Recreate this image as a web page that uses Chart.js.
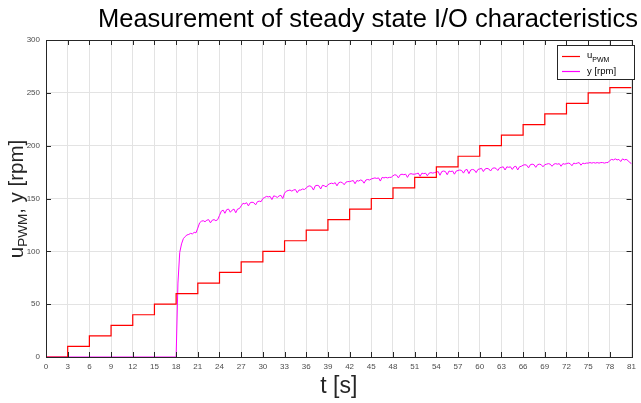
<!DOCTYPE html>
<html>
<head>
<meta charset="utf-8">
<script src="https://cdn.jsdelivr.net/npm/chart.js@4/dist/chart.umd.min.js"></script>
<style>
  html, body { margin: 0; padding: 0; background: #fff; }
  #wrap { width: 641px; height: 403px; }
</style>
</head>
<body>
<div id="wrap"><canvas id="myChart" width="641" height="403"></canvas></div>
<script>
// u_PWM command: step every 3 s
const uTime = [0, 3, 6, 9, 12, 15, 18, 21, 24, 27, 30, 33, 36, 39, 42, 45, 48, 51, 54, 57, 60, 63, 66, 69, 72, 75, 78, 81];
const uPwm = [0, 10, 20, 30, 40, 50, 60, 70, 80, 90, 100, 110, 120, 130, 140, 150, 160, 170, 180, 190, 200, 210, 220, 230, 240, 250, 255, 255];

// measured speed: idle part, then samples every 0.25 s from t = 18 s
const yIdleTime = [0, 18];
const yIdleRpm = [0, 0];
const ySampleStart = 18;
const ySamplePeriod = 0.25;
const yRpm = [
  0, 70, 99, 107, 112, 114, 115.5, 116, 117, 116.5, 118, 117.5,
  122, 127, 128.5, 129, 128, 129.5, 130, 127, 129.5, 130, 129, 130,
  134, 138, 139, 136, 139.5, 140, 137, 139, 140, 136.5, 140, 140.5,
  143, 145.5, 145, 146, 143, 146, 146.5, 146, 144, 147, 147.5, 147,
  150, 151, 152, 151.5, 152, 149, 152.5, 152, 151, 152.5, 153, 150,
  155, 157, 157.5, 158, 157, 158, 158.5, 155.5, 158, 158, 159, 158.5,
  160, 161.5, 162, 161, 158, 162, 162.5, 162, 159, 162.5, 162, 161,
  163, 164, 164.5, 164, 165, 162, 165, 165.5, 165, 163, 165.5, 166,
  166, 166.5, 167, 164, 167, 166.5, 167.5, 167, 164.5, 167.5, 168, 167.5,
  168.5, 169, 169.5, 169, 169.5, 166.5, 170, 169.5, 170, 169.5, 170, 170,
  171.5, 172.5, 172, 169.5, 172.5, 173, 172.5, 173, 170, 173, 173.5, 173,
  173, 173.5, 174, 171, 174, 173.5, 174, 171.5, 174, 174.5, 174, 174.5,
  175, 175.5, 172, 175.5, 176, 175.5, 172.5, 176, 175.5, 176, 173, 176,
  176.5, 177, 176.5, 174, 177, 177.5, 173.5, 177, 177.5, 177, 174.5, 177.5,
  178, 178.5, 175.5, 178, 178.5, 178, 176, 178.5, 179, 178.5, 176.5, 179,
  179.5, 180, 177, 180, 179.5, 180, 177.5, 180, 180.5, 177, 180, 180.5,
  181.5, 182, 181.5, 179, 182, 182.5, 182, 179.5, 182, 182.5, 182, 180,
  182, 182.5, 183, 182.5, 180.5, 182.5, 183, 182.5, 183, 180.5, 183, 182.5,
  183, 183.5, 183, 181, 183.5, 183, 183.5, 184, 181.5, 183.5, 183, 183.5,
  183.5, 184, 183.5, 184, 183.5, 184, 183.5, 184, 184, 183.5, 184, 184,
  186, 187, 186.5, 187.5, 186.5, 187, 185, 187.5, 186.5, 187, 186, 184,
  183
];

const xTicks = { min: 0, max: 81, step: 3 };
const yTicks = { min: 0, max: 300, step: 50 };

const uPoints = uTime.map((t, i) => ({ x: t, y: uPwm[i] }));
const yPoints = yIdleTime.map((t, i) => ({ x: t, y: yIdleRpm[i] }))
  .concat(yRpm.map((v, i) => ({ x: ySampleStart + i * ySamplePeriod, y: v })));

const axisColor = '#262626';
const fontFam = '"Liberation Sans", Arial, sans-serif';

// draws frame, inward ticks, title, y label with subscript and the legend
const matlabLook = {
  id: 'matlabLook',
  afterDatasetsDraw(chart) {
    const { ctx, chartArea: a, scales: { x, y } } = chart;
    const L = a.left, R = a.right, T = a.top, B = a.bottom;
    ctx.save();
    ctx.lineWidth = 1;
    ctx.strokeStyle = axisColor;
    ctx.beginPath();
    for (let v = xTicks.min; v <= xTicks.max; v += xTicks.step) {
      const px = Math.round(x.getPixelForValue(v)) + 0.5;
      ctx.moveTo(px, B); ctx.lineTo(px, B - 5);
      ctx.moveTo(px, T); ctx.lineTo(px, T + 5);
    }
    for (let v = yTicks.min; v <= yTicks.max; v += yTicks.step) {
      const py = Math.round(y.getPixelForValue(v)) + 0.5;
      ctx.moveTo(L, py); ctx.lineTo(L + 5, py);
      ctx.moveTo(R, py); ctx.lineTo(R - 5, py);
    }
    ctx.stroke();
    ctx.strokeRect(Math.round(L) + 0.5, Math.round(T) + 0.5, Math.round(R - L), Math.round(B - T));

    // title
    ctx.fillStyle = '#000';
    ctx.font = '25.5px ' + fontFam;
    ctx.textAlign = 'center';
    ctx.textBaseline = 'alphabetic';
    ctx.fillText('Measurement of steady state I/O characteristics', 368, 27);

    // y axis label: u_PWM, y [rpm]
    ctx.save();
    ctx.translate(23, 199);
    ctx.rotate(-Math.PI / 2);
    ctx.textAlign = 'left';
    const big = '20.5px ' + fontFam, small = '13.5px ' + fontFam;
    ctx.font = big; const w1 = ctx.measureText('u').width;
    ctx.font = small; const w2 = ctx.measureText('PWM').width;
    ctx.font = big; const w3 = ctx.measureText(', y [rpm]').width;
    let sx = -(w1 + w2 + w3) / 2;
    ctx.fillStyle = axisColor;
    ctx.font = big; ctx.fillText('u', sx, 0); sx += w1;
    ctx.font = small; ctx.fillText('PWM', sx, 4); sx += w2;
    ctx.font = big; ctx.fillText(', y [rpm]', sx, 0);
    ctx.restore();

    // legend
    ctx.fillStyle = '#fff';
    ctx.fillRect(557.5, 45.5, 77, 34);
    ctx.strokeStyle = axisColor;
    ctx.strokeRect(557.5, 45.5, 77, 34);
    const items = chart.data.datasets;
    const rows = [56, 71];
    items.forEach((ds, i) => {
      const ry = rows[i];
      ctx.strokeStyle = ds.borderColor;
      ctx.lineWidth = 1.2;
      ctx.beginPath(); ctx.moveTo(562, ry + 0.5); ctx.lineTo(580, ry + 0.5); ctx.stroke();
      ctx.fillStyle = '#000';
      ctx.textAlign = 'left';
      if (i === 0) {
        ctx.font = '9.5px ' + fontFam; ctx.fillText('u', 587, ry + 2);
        const uw = ctx.measureText('u').width;
        ctx.font = '7px ' + fontFam; ctx.fillText('PWM', 587 + uw, ry + 6);
      } else {
        ctx.font = '9.5px ' + fontFam; ctx.fillText('y [rpm]', 587, ry + 3);
      }
    });
    ctx.restore();
  }
};

const ctx = document.getElementById('myChart').getContext('2d');
new Chart(ctx, {
  type: 'line',
  data: {
    datasets: [
      { label: 'u_PWM', data: uPoints, borderColor: '#ff0000', borderWidth: 1.2, stepped: true, pointRadius: 0, fill: false },
      { label: 'y [rpm]', data: yPoints, borderColor: '#ff00ff', borderWidth: 1, pointRadius: 0, tension: 0, fill: false }
    ]
  },
  options: {
    responsive: false,
    animation: false,
    layout: { padding: { top: 40, right: 5, left: 0, bottom: 0 } },
    plugins: { legend: { display: false }, title: { display: false }, tooltip: { enabled: false } },
    scales: {
      x: {
        type: 'linear', min: xTicks.min, max: xTicks.max,
        afterFit: s => { s.height = 46; },
        border: { display: false },
        grid: { color: '#e3e3e3', drawTicks: false },
        ticks: { stepSize: xTicks.step, autoSkip: false, maxRotation: 0, padding: 5, color: '#4d4d4d', font: { size: 8, family: fontFam } },
        title: { display: true, text: 't [s]', color: axisColor, font: { size: 23, family: fontFam }, padding: { top: 0, bottom: 3 } }
      },
      y: {
        type: 'linear', min: yTicks.min, max: yTicks.max,
        afterFit: s => { s.width = 46; },
        border: { display: false },
        grid: { color: '#e3e3e3', drawTicks: false },
        ticks: { stepSize: yTicks.step, padding: 6, color: '#4d4d4d', font: { size: 8, family: fontFam } }
      }
    }
  },
  plugins: [matlabLook]
});
</script>
</body>
</html>
